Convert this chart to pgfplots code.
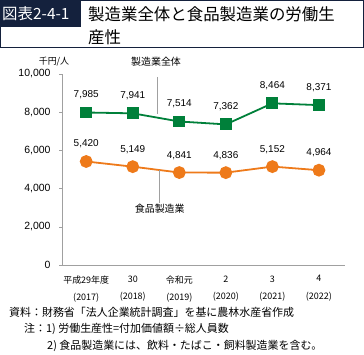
\documentclass[border=0pt]{standalone}
\usepackage{pgfplots}
\pgfplotsset{compat=1.18}
\usepackage{fontspec}
\setmainfont{Noto Sans CJK JP}
\newfontfamily\numfont{Liberation Sans}
\definecolor{navy}{HTML}{14213D}
\definecolor{mgreen}{HTML}{00803A}
\definecolor{morange}{HTML}{EE7A1A}
\definecolor{axgray}{HTML}{A0A0A0}
\begin{document}
\begin{tikzpicture}[x=1bp,y=1bp]
\path (0,0) rectangle (364,-355);
% title
\draw[navy,line width=0.8bp] (0.5,-0.5) rectangle (363.5,-47);
\fill[navy] (0,0) rectangle (81,-27);
\node[anchor=west,text=white,inner sep=0pt,font=\fontsize{15.5}{17}\selectfont] at (2,-14) {図表2-4-1};
\node[anchor=west,inner sep=0pt,font=\fontsize{16.5}{18}\selectfont] at (88,-14) {製造業全体と食品製造業の労働生};
\node[anchor=west,inner sep=0pt,font=\fontsize{16.5}{18}\selectfont] at (88,-37) {産性};
\node[inner sep=0pt,font=\fontsize{9}{10}\selectfont] at (54,-62) {千円/人};
\begin{axis}[
  at={(62bp,-265bp)}, anchor=south west,
  scale only axis, width=283bp, height=191bp,
  xmin=-0.52, xmax=5.56, ymin=0, ymax=10000,
  axis x line=bottom, axis y line=left,
  axis line style={axgray,line width=0.8bp,-},
  xtick=data, xtick style={draw=none},
  xticklabels={{平成29年度\\(2017)},{30\\(2018)},{令和元\\(2019)},{2\\(2020)},{3\\(2021)},{4\\(2022)}},
  xticklabel style={align=center,font=\fontsize{9}{17.5}\selectfont,yshift=-4bp},
  ytick={0,2000,4000,6000,8000,10000},
  ytick style={axgray,line width=0.6bp},
  tick align=outside, major tick length=3bp,
  yticklabel style={font=\fontsize{10.5}{12}\selectfont\numfont,xshift=-5bp},
  /pgf/number format/assume math mode=true,
  /pgf/number format/1000 sep={,},
  scaled y ticks=false,
  nodes near coords,
  nodes near coords style={font=\fontsize{10}{12}\selectfont\numfont,black,/pgf/number format/1000 sep={,},yshift=9bp},
  clip=false,
]
\addplot[mgreen,line width=1.8bp,mark=square*,mark size=5bp,mark options={fill=mgreen,draw=mgreen}]
 coordinates {(0,7985)(1,7941)(2,7514)(3,7362)(4,8464)(5,8371)};
\addplot[morange,line width=1.8bp,mark=*,mark size=5.5bp,mark options={fill=morange,draw=morange}]
 coordinates {(0,5420)(1,5149)(2,4841)(3,4836)(4,5152)(5,4964)};
\draw[axgray,line width=0.8bp] (axis cs:1.52,9850) -- (axis cs:1.52,7925);
\node[font=\fontsize{10}{11}\selectfont,inner sep=0pt] at (axis cs:1.5,10630) {製造業全体};
\draw[axgray,line width=0.8bp] (axis cs:1.58,4960) -- (axis cs:1.58,3250);
\node[font=\fontsize{10}{11}\selectfont,inner sep=0pt] at (axis cs:1.58,2970) {食品製造業};
\end{axis}
% notes
\node[anchor=west,inner sep=0pt,font=\fontsize{11}{12}\selectfont] at (9,-312) {資料：財務省「法人企業統計調査」を基に農林水産省作成};
\node[anchor=west,inner sep=0pt,font=\fontsize{11}{12}\selectfont] at (24,-329) {注：1) 労働生産性=付加価値額÷総人員数};
\node[anchor=west,inner sep=0pt,font=\fontsize{11}{12}\selectfont] at (47,-346) {2) 食品製造業には、飲料・たばこ・飼料製造業を含む。};
\end{tikzpicture}
\end{document}
